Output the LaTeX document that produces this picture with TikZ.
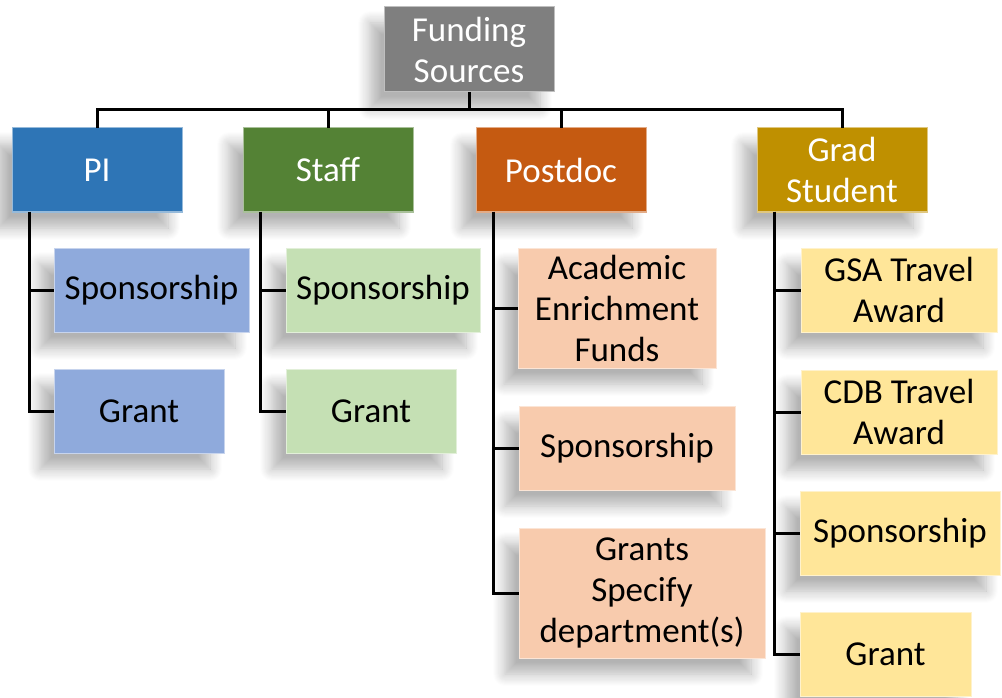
\documentclass[tikz,border=0pt]{standalone}
\usepackage{fontspec}
\setmainfont{Carlito}
\usetikzlibrary{shadows.blur}
\definecolor{fundgray}{HTML}{7F7F7F}
\definecolor{piblue}{HTML}{2E75B6}
\definecolor{pilight}{HTML}{8FAADC}
\definecolor{staffgreen}{HTML}{548235}
\definecolor{stafflight}{HTML}{C5E0B4}
\definecolor{postdocorange}{HTML}{C55A11}
\definecolor{postdoclight}{HTML}{F8CBAD}
\definecolor{gradgold}{HTML}{BF9000}
\definecolor{gradlight}{HTML}{FFE699}
\tikzset{fund box/.style={
        draw=#1!50!white, line width=1pt, fill=#1, anchor=north west,
        align=center, inner sep=2pt,
        outer sep=0pt, % lines meet the border itself
        font=\fontsize{35}{41}\selectfont,
        blur shadow={shadow xshift=-14pt, shadow yshift=-16pt,
            shadow blur radius=12pt, shadow blur steps=12,
            shadow opacity=30},
    },
    head box/.style={
        fund box=#1, text=white, minimum width=170pt, minimum height=84pt
    },
    item box/.style={
        fund box=#1, text=black, minimum height=84pt
    },
    fund line/.style={
        draw=black, line width=3pt
    },
}
\begin{document}
\begin{tikzpicture}[x=1pt, y=-1pt]
    \useasboundingbox (0,0) rectangle (1002,698);

    %% the top and the four groups
        \node [head box=fundgray, minimum height=85pt] at (384,7) (fund) {Funding\\Sources};
        \node [head box=piblue] at (12,128) (pi) {PI};
        \node [head box=staffgreen] at (243,128) (staff) {Staff};
        \node [head box=postdocorange] at (476,128) (postdoc) {Postdoc};
        \node [head box=gradgold] at (757,128) (grad) {Grad\\Student};

    %% what each group can use
        \node [item box=pilight, minimum width=195pt] at (54,248) (pispons) {Sponsorship};
        \node [item box=pilight, minimum width=170pt] at (54,369) (pigrant) {Grant};
        \node [item box=stafflight, minimum width=194pt] at (286,248) (staffspons) {Sponsorship};
        \node [item box=stafflight, minimum width=170pt] at (286,369) (staffgrant) {Grant};
        \node [item box=postdoclight, minimum width=198pt, minimum height=120pt] at (518,248) (pdfunds) {Academic\\Enrichment\\Funds};
        \node [item box=postdoclight, minimum width=216pt] at (519,406) (pdspons) {Sponsorship};
        \node [item box=postdoclight, minimum width=246pt, minimum height=130pt] at (519,528) (pdgrants) {Grants\\Specify\\department(s)};
        \node [item box=gradlight, minimum width=196pt] at (801,248) (gsa) {GSA Travel\\Award};
        \node [item box=gradlight, minimum width=196pt] at (801,370) (cdb) {CDB Travel\\Award};
        \node [item box=gradlight, minimum width=200pt] at (800,491) (gradspons) {Sponsorship};
        \node [item box=gradlight, minimum width=171pt] at (800,612) (gradgrant) {Grant};

    %% the bus under the top box
        \coordinate (bus) at ([yshift=-18pt]fund.south);
        \draw [fund line] (fund.south) -- (bus);
        \foreach \g in {pi, staff, postdoc, grad}
            \draw [fund line] (bus) -| (\g.north);

    %% the trunks down each group
        \foreach \g/\i in {pi/pispons, pi/pigrant, staff/staffspons, staff/staffgrant,
                           postdoc/pdfunds, postdoc/pdspons, postdoc/pdgrants,
                           grad/gsa, grad/cdb, grad/gradspons, grad/gradgrant}
            \draw [fund line] ([xshift=17pt]\g.south west) |- (\i.west);

    \end{tikzpicture}
\end{document}
